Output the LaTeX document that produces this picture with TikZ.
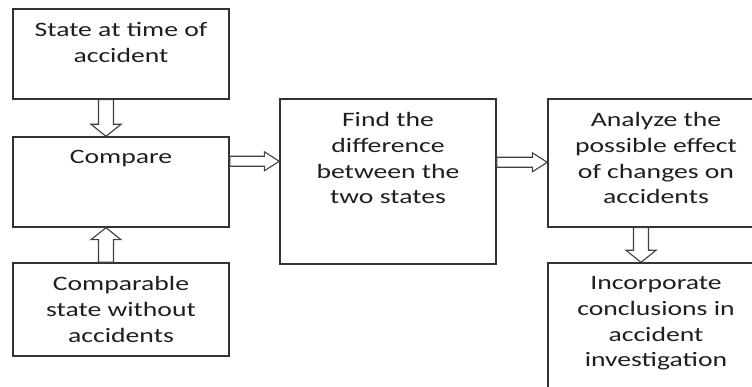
\documentclass[tikz,border=0pt]{standalone}
\usepackage{fontspec}
\setmainfont{Carlito}[FakeStretch=1.35]
\usetikzlibrary{calc}
\newcommand{\boxfont}{\fontsize{20.5pt}{25.7pt}\selectfont\color{black!88}}
\tikzset{
  stbox/.style={draw=black!80, line width=1.4pt, fill=white, rectangle, inner sep=0pt, minimum width=216pt},
  blk/.style={draw=black!75, line width=1.1pt, fill=white, line join=miter},
  btext/.style={anchor=north, yshift=-14pt, align=center, inner sep=0pt, font=\boxfont}
}
% vertical block arrow from #1 to #2 (tip at #2)
\newcommand{\varr}[2]{%
  \draw[blk] let \p1=(#1), \p2=(#2), \n1={sign(\y2-\y1)} in
    (\x1-7.5pt,\y1) -- (\x1-7.5pt,\y2-\n1*12pt) -- (\x1-15pt,\y2-\n1*12pt) -- (\x1,\y2)
    -- (\x1+15pt,\y2-\n1*12pt) -- (\x1+7.5pt,\y2-\n1*12pt) -- (\x1+7.5pt,\y1) -- cycle;}
% horizontal block arrow from #1 to the x of #2
\newcommand{\harr}[2]{%
  \draw[blk] let \p1=(#1), \p2=(#2) in
    (\x1,\y1+5pt) -- (\x2-15pt,\y1+5pt) -- (\x2-15pt,\y1+9.5pt) -- (\x2,\y1)
    -- (\x2-15pt,\y1-9.5pt) -- (\x2-15pt,\y1-5pt) -- (\x1,\y1-5pt) -- cycle;}
\begin{document}
\begin{tikzpicture}[x=1pt,y=-1pt]
\useasboundingbox (0,0) rectangle (752,387);
\fill[white] (0,0) rectangle (752,387);
\clip (0,0) rectangle (752,387);

\node[stbox, minimum height=90pt, label={[btext]north:State at time of\\accident}] (b1) at (121,54) {};
\node[stbox, minimum height=90pt, label={[btext]north:Compare}] (b2) at (121,182) {};
\node[stbox, minimum height=93pt, label={[btext]north:Comparable\\state without\\accidents}] (b3) at (121,309.5) {};
\node[stbox, minimum height=165pt, label={[btext]north:Find the\\difference\\between the\\two states}] (b4) at (388,181.5) {};
\node[stbox, minimum height=128pt, label={[btext]north:Analyze the\\possible effect\\of changes on\\accidents}] (b5) at (656,163) {};
\node[stbox, minimum height=157pt, label={[btext]north:Incorporate\\conclusions in\\accident\\investigation}] (b6) at (656,341.5) {};

\coordinate (a1s) at ([xshift=-15pt]b1.south);
\coordinate (a1e) at ([xshift=-15pt]b2.north);
\varr{a1s}{a1e}
\coordinate (a2s) at ([xshift=-15pt]b3.north);
\coordinate (a2e) at ([xshift=-15pt]b2.south);
\varr{a2s}{a2e}
\coordinate (a3s) at ([xshift=-15pt]b5.south);
\coordinate (a3e) at ([xshift=-15pt]b6.north);
\varr{a3s}{a3e}
\coordinate (h1s) at ([yshift=-25pt]b2.north east);
\harr{h1s}{b4.west}
\coordinate (h2s) at ([yshift=-64pt]b4.north east);
\harr{h2s}{b5.west}
\end{tikzpicture}
\end{document}
